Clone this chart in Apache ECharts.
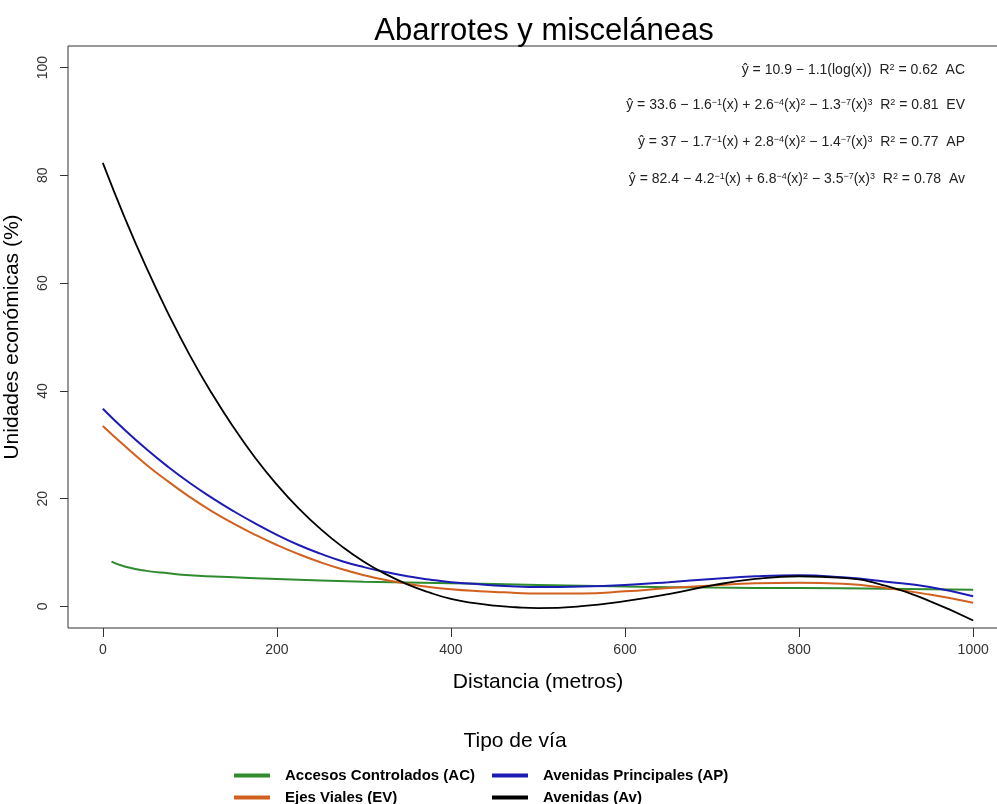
<!DOCTYPE html>
<html>
<head>
<meta charset="utf-8">
<script src="https://cdn.jsdelivr.net/npm/echarts@6/dist/echarts.min.js"></script>
<style>html,body{margin:0;padding:0;background:#fff}#c{width:997px;height:804px}</style>
</head>
<body>
<div id="c"></div>
<script>
// ---- data ----
const distances = [0,25,50,75,100,125,150,175,200,225,250,275,300,325,350,375,400,425,450,475,500,550,600,650,700,750,800,850,900,950,1000];
const evValues = [33.5,29.8,26.3,23.2,20.3,17.7,15.4,13.3,11.4,9.7,8.2,6.9,5.8,4.9,4.2,3.6,3.2,2.9,2.7,2.5,2.4,2.4,2.8,3.4,3.9,4.3,4.4,4.2,3.4,2.2,0.7];
const apValues = [36.7,32.8,29.2,25.9,22.9,20.2,17.7,15.4,13.3,11.4,9.8,8.4,7.3,6.4,5.6,5.0,4.5,4.2,3.9,3.7,3.6,3.7,4.0,4.5,5.1,5.6,5.8,5.4,4.6,3.6,1.9];
const avValues = [82.3,72.2,62.9,54.4,46.6,39.6,33.3,27.6,22.6,18.2,14.4,11.1,8.3,6.0,4.1,2.6,1.4,0.65,0.15,-0.15,-0.3,0.05,1.0,2.3,3.9,5.1,5.6,5.3,3.8,1.0,-2.6];
const acDistances = [10,25,50,75,100,150,200,300,400,500,600,700,800,900,1000];
const acValues = [8.3,7.4,6.6,6.15,5.8,5.4,5.1,4.6,4.3,4.0,3.7,3.5,3.4,3.3,3.1];
const xTicks = [0,200,400,600,800,1000];
const yTicks = [0,20,40,60,80,100];
const seriesNames = ['Accesos Controlados (AC)','Ejes Viales (EV)','Avenidas Principales (AP)','Avenidas (Av)'];
const equationLabels = [
  'ŷ = 10.9 − 1.1(log(x))  R{s|2} = 0.62  AC',
  'ŷ = 33.6 − 1.6{s|−1}(x) + 2.6{s|−4}(x){s|2} − 1.3{s|−7}(x){s|3}  R{s|2} = 0.81  EV',
  'ŷ = 37 − 1.7{s|−1}(x) + 2.8{s|−4}(x){s|2} − 1.4{s|−7}(x){s|3}  R{s|2} = 0.77  AP',
  'ŷ = 82.4 − 4.2{s|−1}(x) + 6.8{s|−4}(x){s|2} − 3.5{s|−7}(x){s|3}  R{s|2} = 0.78  Av'
];

const colors = ['#2E8B2E','#D2601E','#1C1CB4','#000000'];
const lineWidths = [2, 2, 2, 1.8];
const pairs = (xs, ys) => xs.map((x, i) => [x, ys[i]]);

const chart = echarts.init(document.getElementById('c'));
const FONT = 'Liberation Sans, Arial, sans-serif';

const eqY = [70, 105, 142, 179];
const graphics = equationLabels.map((t, i) => ({
  type: 'text',
  x: 965, y: eqY[i],
  style: {
    text: t,
    align: 'right',
    verticalAlign: 'middle',
    fontFamily: FONT,
    fontSize: 14,
    fill: '#222',
    rich: {
      s: { fontSize: 9, verticalAlign: 'top', lineHeight: 9, fill: '#222', fontFamily: FONT }
    }
  }
}));

const legendPos = [[229,763],[229,785],[487,763],[487,785]];

chart.setOption({
  animation: false,
  backgroundColor: '#fff',
  title: [
    { text: 'Abarrotes y misceláneas', left: 539, top: 11, textAlign: 'center',
      textStyle: { fontFamily: FONT, fontSize: 31, fontWeight: 'normal', color: '#000' } },
    { text: 'Tipo de vía', left: 510, top: 726, textAlign: 'center',
      textStyle: { fontFamily: FONT, fontSize: 21, fontWeight: 'normal', color: '#000' } }
  ],
  legend: seriesNames.map((n, i) => ({
    data: [n], left: legendPos[i][0], top: legendPos[i][1],
    icon: 'rect', itemWidth: 36, itemHeight: 4,
    textStyle: { fontFamily: FONT, fontSize: 15, fontWeight: 'bold', color: '#000', padding: [0,0,0,10] }
  })),
  grid: { left: 68, right: -11, top: 46, bottom: 176, show: true, borderColor: '#333', borderWidth: 1,
          containLabel: false, outerBoundsMode: 'none' },
  xAxis: {
    type: 'value', min: -40, max: 1040,
    name: 'Distancia (metros)', nameLocation: 'middle', nameGap: 44,
    nameTextStyle: { fontFamily: FONT, fontSize: 21, color: '#000' },
    axisLine: { show: false, onZero: false },
    axisTick: { show: true, length: 9, customValues: xTicks, lineStyle: { color: '#333' } },
    axisLabel: { customValues: xTicks, margin: 15, fontFamily: FONT, fontSize: 14, color: '#333', formatter: v => String(v) },
    splitLine: { show: false }
  },
  yAxis: {
    type: 'value', min: -4, max: 104,
    name: 'Unidades económicas (%)', nameLocation: 'middle', nameGap: 45, nameRotate: 90,
    nameTextStyle: { fontFamily: FONT, fontSize: 21, color: '#000' },
    axisLine: { show: false, onZero: false },
    axisTick: { show: true, length: 8, customValues: yTicks, lineStyle: { color: '#333' } },
    axisLabel: { customValues: yTicks, rotate: 90, margin: 18, fontFamily: FONT, fontSize: 14, color: '#333', formatter: v => String(v) },
    splitLine: { show: false }
  },
  graphic: graphics,
  series: [
    { name: seriesNames[0], type: 'line', data: pairs(acDistances, acValues) },
    { name: seriesNames[1], type: 'line', data: pairs(distances, evValues) },
    { name: seriesNames[2], type: 'line', data: pairs(distances, apValues) },
    { name: seriesNames[3], type: 'line', data: pairs(distances, avValues) }
  ].map((s, i) => Object.assign(s, {
    showSymbol: false, smooth: 0.5, color: colors[i],
    lineStyle: { width: lineWidths[i], color: colors[i] }
  }))
});
</script>
</body>
</html>
